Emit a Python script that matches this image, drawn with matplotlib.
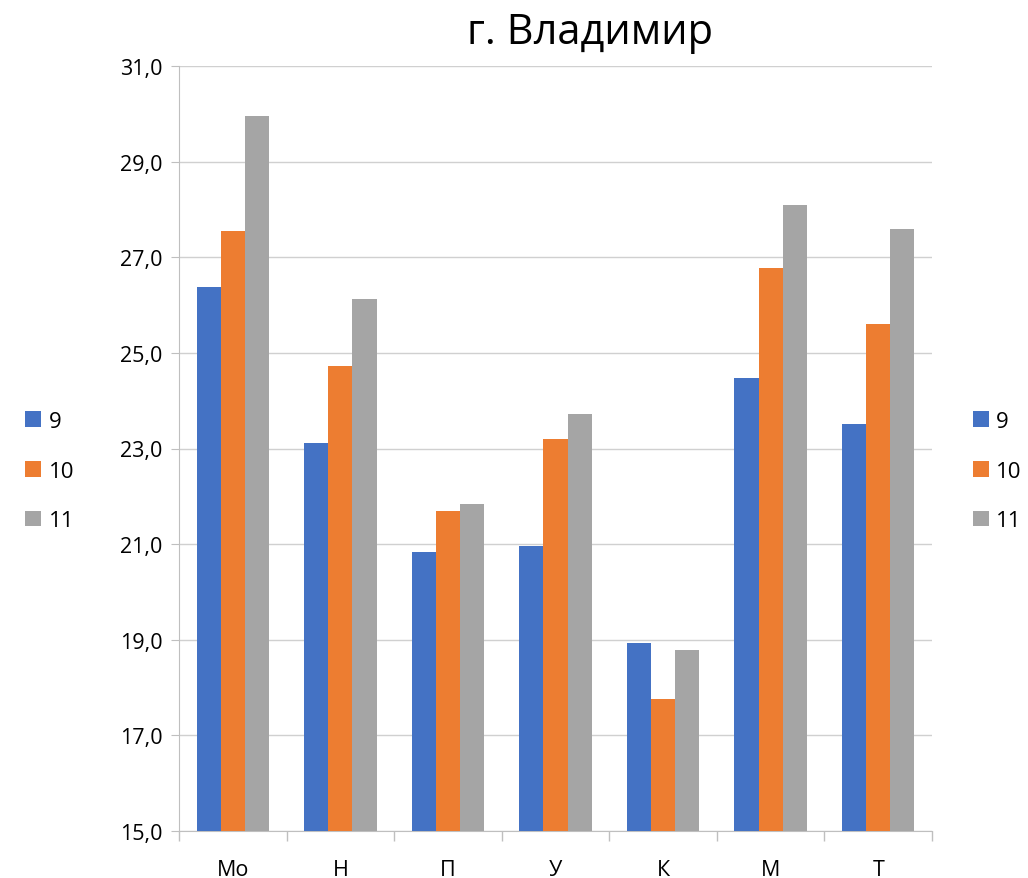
import matplotlib.pyplot as plt
import numpy as np
from matplotlib.ticker import FuncFormatter

plt.rcParams['font.family'] = ['Open Sans', 'DejaVu Sans']

categories = ['Мо', 'Н', 'П', 'У', 'К', 'М', 'Т']
series_names = ['9', '10', '11']
vals_9 = [26.38, 23.11, 20.83, 20.96, 18.93, 24.47, 23.51]
vals_10 = [27.55, 24.72, 21.69, 23.20, 17.76, 26.77, 25.60]
vals_11 = [29.95, 26.13, 21.84, 23.72, 18.78, 28.09, 27.59]
colors = ['#4472C4', '#ED7D31', '#A5A5A5']

fig = plt.figure(figsize=(10.28, 8.79), dpi=100)
ax = fig.add_axes([179/1028, 1 - 832/879, (932-179)/1028, (832-67)/879])

x = np.arange(len(categories))
w = 0.224
bars = []
for i, (vals, c) in enumerate(zip([vals_9, vals_10, vals_11], colors)):
    b = ax.bar(x + (i - 1) * w, np.array(vals) - 15, bottom=15, width=w, color=c, zorder=3)
    bars.append(b)

ax.set_xlim(-0.5, len(categories) - 0.5)
ax.set_ylim(15, 31)
ax.set_yticks(np.arange(15, 32, 2))
ax.yaxis.set_major_formatter(FuncFormatter(lambda v, p: f'{v:.1f}'.replace('.', ',')))
ax.grid(axis='y', color='#D0D0D0', linewidth=1, zorder=0)
ax.set_xticks(x)
ax.set_xticklabels(categories)
ax.set_xticks(np.arange(-0.5, len(categories), 1), minor=True)
ax.tick_params(axis='x', which='major', length=0, pad=20, labelsize=15.5)
ax.tick_params(axis='x', which='minor', length=7, color='#BFBFBF', width=1)
ax.tick_params(axis='y', length=6, color='#BFBFBF', labelsize=15.5, pad=6)
for s in ['top', 'right']:
    ax.spines[s].set_visible(False)
ax.spines['left'].set_color('#BFBFBF')
ax.spines['bottom'].set_color('#BFBFBF')

fig.text(590/1028, 1 - 33/879, 'г. Владимир', ha='center', va='center', fontsize=30)

for bx in [0.005, 0.927]:
    fig.legend([b[0] for b in bars], series_names, loc='center left',
               bbox_to_anchor=(bx, 1 - 472/879), frameon=False, fontsize=16,
               handlelength=0.7, handleheight=0.7, handletextpad=0.35, labelspacing=1.3)

fig.savefig('out.png', dpi=100)
